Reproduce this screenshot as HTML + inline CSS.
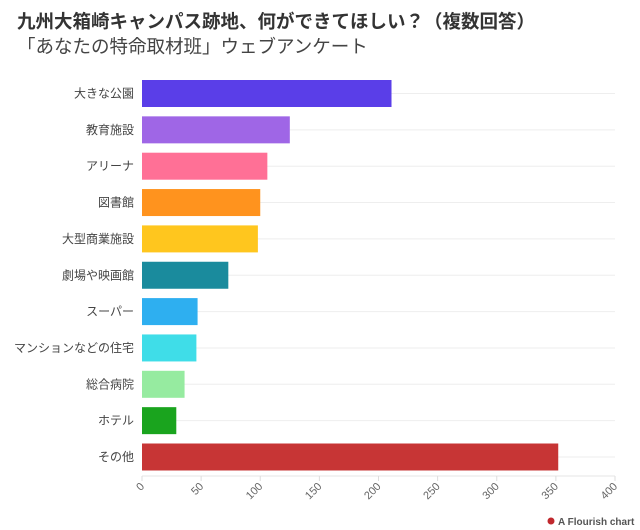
<!DOCTYPE html>
<html><head><meta charset="utf-8"><style>
body{margin:0;width:640px;height:530px;background:#fff;font-family:"Liberation Sans","Noto Sans CJK JP",sans-serif;overflow:hidden;position:relative}
.t{position:absolute;left:17px;top:8px;font-size:18.5px;font-weight:bold;color:#333;white-space:nowrap}
.s{position:absolute;left:17px;top:33px;font-size:18.5px;color:#444;white-space:nowrap}
</style></head><body>
<div class="t">九州大箱崎キャンパス跡地、何ができてほしい？（複数回答）</div>
<div class="s">「あなたの特命取材班」ウェブアンケート</div>
<svg width="640" height="530" style="position:absolute;left:0;top:0" font-family="Liberation Sans, Noto Sans CJK JP, sans-serif">
<g id="rows"></g>
<line x1="142" y1="476" x2="615" y2="476" stroke="#e6e6e6"/>
<g font-size="11" fill="#666" id="ticks"></g>
<circle cx="551" cy="521" r="3.5" fill="#c0282d"/>
<text x="558" y="525" font-size="10" font-weight="bold" fill="#555">A Flourish chart</text>
</svg>
<script>
var d=[["大きな公園",211,"#5a3ee8"],["教育施設",125,"#9f66e6"],["アリーナ",106,"#ff7096"],["図書館",100,"#ff931e"],["大型商業施設",98,"#ffc61e"],["劇場や映画館",73,"#1a8b9d"],["スーパー",47,"#2eaff0"],["マンションなどの住宅",46,"#3fdde8"],["総合病院",36,"#96eba0"],["ホテル",29,"#1aa41e"],["その他",352,"#c73535"]];
var s="",x0=142,k=1.1825;
d.forEach(function(r,i){var c=93.5+i*36.35;
s+='<line x1="142" y1="'+c+'" x2="615" y2="'+c+'" stroke="#eee"/>';
s+='<rect x="142" y="'+(c-13.5)+'" width="'+(r[1]*k)+'" height="27" fill="'+r[2]+'"/>';
s+='<text x="134" y="'+(c+4)+'" font-size="12" fill="#444" text-anchor="end">'+r[0]+'</text>';});
document.getElementById("rows").innerHTML=s;
var t="";for(var v=0;v<=400;v+=50){var x=x0+v*k;
t+='<line x1="'+x+'" y1="476" x2="'+x+'" y2="481" stroke="#ddd"/>';
t+='<text transform="translate('+(x+3)+',487) rotate(-45)" text-anchor="end">'+v+'</text>';}
document.getElementById("ticks").innerHTML=t;
</script>
</body></html>
